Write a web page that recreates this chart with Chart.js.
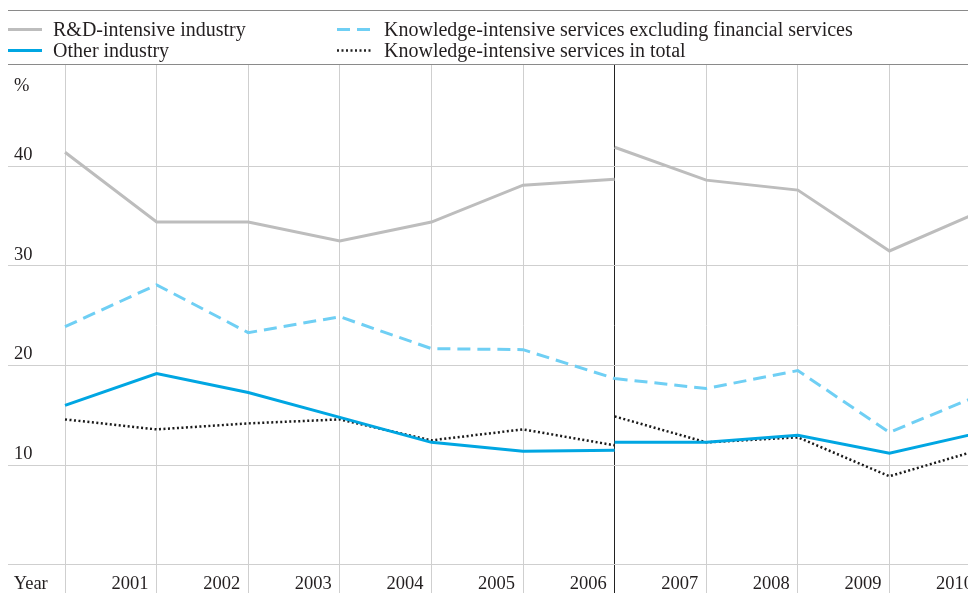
<!DOCTYPE html>
<html>
<head>
<meta charset="utf-8">
<script src="https://cdn.jsdelivr.net/npm/chart.js@4"></script>
<style>
  body { margin: 0; width: 968px; height: 593px; overflow: hidden; background: #fff; font-family: 'Liberation Serif', serif; color: #231f20; }
  #legend { position: absolute; left: 8px; top: 10px; width: 1030px; height: 53px; border-top: 1.5px solid #8a8a8a; border-bottom: 1.5px solid #8a8a8a; z-index: 2; }
  .item { position: absolute; font-size: 20px; line-height: 20px; white-space: nowrap; }
  .item svg { position: absolute; left: 0; top: 0; }
  .item span { position: absolute; top: 0; }
  #wrap { position: absolute; left: 0; top: 0; }
</style>
</head>
<body>
<div id="legend">
  <div class="item" style="left:0;top:8px">
    <svg width="36" height="20"><line x1="0" y1="10.5" x2="34" y2="10.5" stroke="#bdbdbd" stroke-width="3"/></svg>
    <span style="left:45px">R&amp;D-intensive industry</span>
  </div>
  <div class="item" style="left:0;top:29px">
    <svg width="36" height="20"><line x1="0" y1="10.5" x2="34" y2="10.5" stroke="#00a6e2" stroke-width="3"/></svg>
    <span style="left:45px">Other industry</span>
  </div>
  <div class="item" style="left:329px;top:8px">
    <svg width="36" height="20"><line x1="0" y1="10.5" x2="34" y2="10.5" stroke="#6fcff4" stroke-width="3" stroke-dasharray="13,7"/></svg>
    <span style="left:47px">Knowledge-intensive services excluding financial services</span>
  </div>
  <div class="item" style="left:329px;top:29px">
    <svg width="36" height="20"><line x1="0" y1="10.5" x2="34" y2="10.5" stroke="#222" stroke-width="2.5" stroke-dasharray="2,2.5"/></svg>
    <span style="left:47px">Knowledge-intensive services in total</span>
  </div>
</div>
<div id="wrap"><canvas id="c" width="1036" height="593"></canvas></div>
<script>
// years before and after the 2006 break
const yearsA = [2000, 2001, 2002, 2003, 2004, 2005, 2006];
const yearsB = [2006, 2007, 2008, 2009, 2010];
const tickYears = [2000, 2001, 2002, 2003, 2004, 2005, 2006, 2007, 2008, 2009, 2010];
const yTicks = [0, 10, 20, 30, 40];

const rdA = [41.4, 34.4, 34.4, 32.5, 34.4, 38.1, 38.7];
const rdB = [41.9, 38.6, 37.6, 31.5, 35.5];
const kisExA = [23.9, 28.1, 23.3, 24.9, 21.7, 21.6, 18.7];
const kisExB = [18.7, 17.7, 19.5, 13.3, 17.1];
const otherA = [16.0, 19.2, 17.3, 14.8, 12.3, 11.4, 11.5];
const otherB = [12.3, 12.3, 13.0, 11.2, 13.3];
const kisTotA = [14.6, 13.6, 14.2, 14.6, 12.5, 13.6, 12.0];
const kisTotB = [14.9, 12.3, 12.8, 8.9, 11.6];

function joined(a, b) {
    const pts = yearsA.map((x, i) => ({ x: x, y: a[i] }));
    pts.push({ x: 2006, y: null });
    yearsB.forEach((x, i) => pts.push({ x: x, y: b[i] }));
    return pts;
}

const FAMILY = "'Liberation Serif', serif";
const INK = '#231f20';

const extraText = {
    id: 'extraText',
    afterDraw(chart) {
        const c = chart.ctx;
        c.save();
        c.font = '18.5px "Liberation Serif", serif';
        c.fillStyle = INK;
        c.textAlign = 'left';
        c.textBaseline = 'middle';
        c.fillText('%', 14, 86);
        c.restore();
    }
};

new Chart(document.getElementById('c').getContext('2d'), {
    type: 'line',
    data: {
        datasets: [
            { label: 'R&D-intensive industry', data: joined(rdA, rdB), borderColor: '#bdbdbd', borderWidth: 3 },
            { label: 'Knowledge-intensive services excluding financial services', data: joined(kisExA, kisExB), borderColor: '#6fcff4', borderWidth: 3, borderDash: [13, 7] },
            { label: 'Other industry', data: joined(otherA, otherB), borderColor: '#00a6e2', borderWidth: 3 },
            { label: 'Knowledge-intensive services in total', data: joined(kisTotA, kisTotB), borderColor: '#1a1a1a', borderWidth: 2.5, borderDash: [2, 2.5] }
        ]
    },
    options: {
        responsive: false,
        animation: false,
        spanGaps: false,
        elements: { point: { radius: 0 }, line: { tension: 0, fill: false } },
        layout: { padding: { top: 64, left: -4, right: 0, bottom: 0 } },
        plugins: { legend: { display: false }, tooltip: { enabled: false } },
        scales: {
            x: {
                type: 'linear',
                min: 1999.3775,
                max: 2010.6,
                afterBuildTicks: s => { s.ticks = tickYears.map(v => ({ value: v })); },
                grid: {
                    color: c => (c.tick && c.tick.value === 2006) ? '#222' : '#cfcfcf',
                    lineWidth: 1,
                    drawTicks: true,
                    tickLength: 6
                },
                border: { display: false },
                ticks: {
                    mirror: true,
                    align: 'end',
                    labelOffset: -8,
                    padding: 0,
                    maxRotation: 0,
                    autoSkip: false,
                    color: INK,
                    font: { family: FAMILY, size: 18.5, lineHeight: 0.3 },
                    callback: v => v === 2000 ? 'Year\u2002' : String(v)
                }
            },
            y: {
                min: -2.21,
                max: 50.25,
                afterBuildTicks: s => { s.ticks = yTicks.map(v => ({ value: v })); },
                grid: { color: '#cfcfcf', lineWidth: 1, drawTicks: false },
                border: { display: false },
                ticks: {
                    mirror: true,
                    padding: 6,
                    labelOffset: -11,
                    color: INK,
                    font: { family: FAMILY, size: 18.5 },
                    callback: v => v === 0 ? [] : String(v)
                }
            }
        }
    },
    plugins: [extraText]
});
</script>
</body>
</html>
